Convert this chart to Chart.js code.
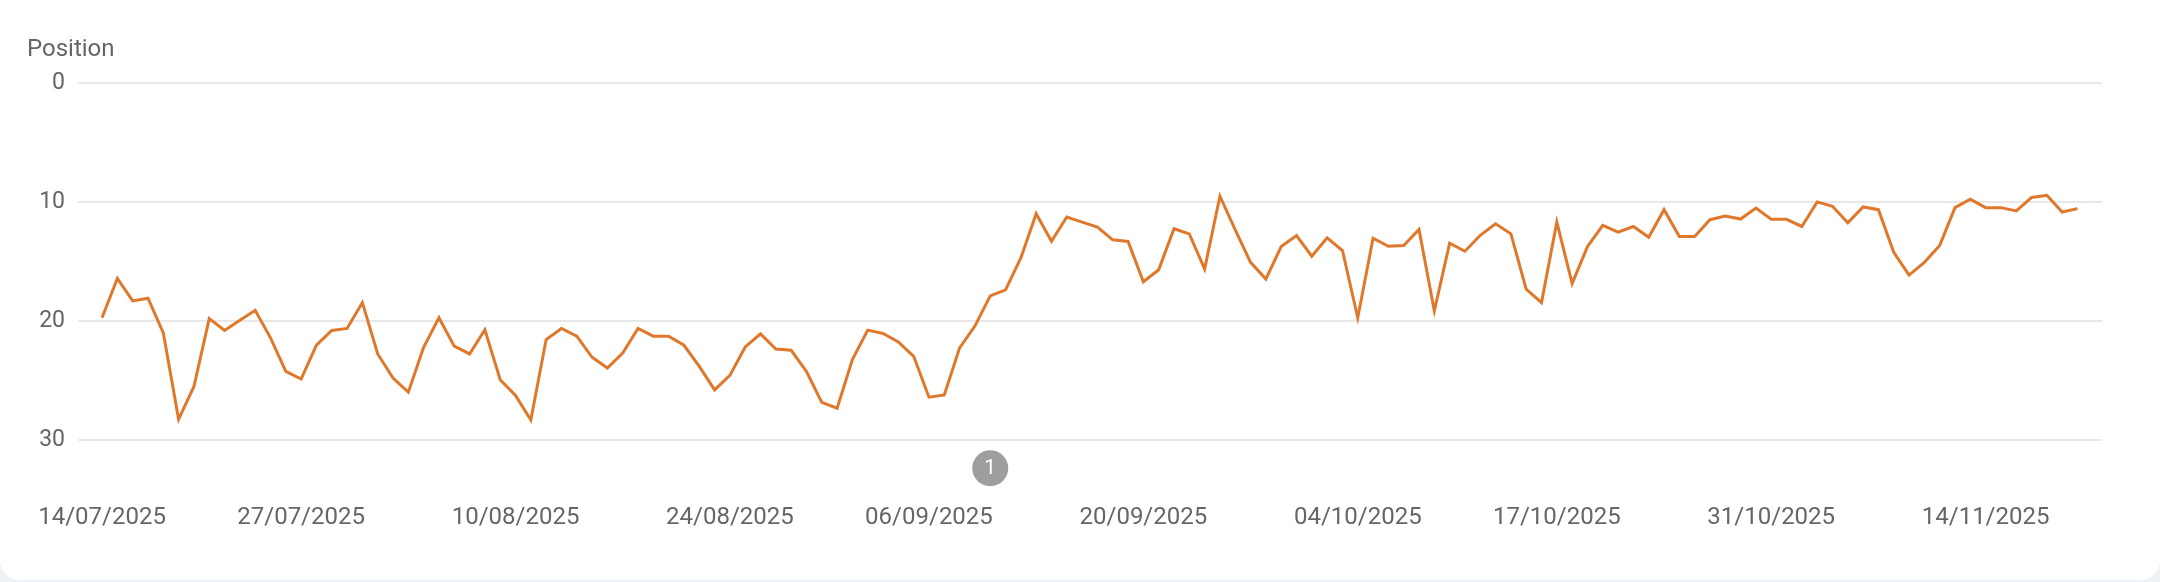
<!DOCTYPE html>
<html lang="en">
<head>
    <meta charset="UTF-8">
    <title>Average position</title>
    <script src="https://cdn.jsdelivr.net/npm/chart.js"></script>
    <style>
        body { margin: 0; background: #eef1f6; }
        .card { width: 2160px; height: 580px; background: #fff; border-radius: 0 0 20px 20px; overflow: hidden; }
        canvas { display: block; }
    </style>
</head>
<body>
    <div class="card">
        <canvas id="positionChart" width="2160" height="580"></canvas>
    </div>

    <script>
        // one point per day, starting 14/07/2025
        const startDate = '2025-07-14';

        const position = [
            19.72, 16.42, 18.31, 18.08, 20.99, 28.25, 25.49, 19.80, 20.79, 19.94, 19.10, 21.41,
            24.23, 24.87, 22.03, 20.79, 20.62, 18.45, 22.76, 24.79, 25.97, 22.20, 19.72,
            22.11, 22.76, 20.73, 24.93, 26.25, 28.31, 21.55, 20.62, 21.27, 23.04, 23.94, 22.68,
            20.62, 21.27, 21.27, 22.03, 23.80, 25.77, 24.56, 22.17, 21.07, 22.34, 22.45,
            24.23, 26.82, 27.32, 23.24, 20.76, 21.04, 21.75, 22.96, 26.39, 26.20, 22.25,
            20.42, 17.89, 17.38, 14.70, 10.99, 13.30, 11.27, 11.69, 12.11, 13.18, 13.32,
            16.70, 15.69, 12.25, 12.68, 15.63, 9.52, 12.34, 15.07, 16.48, 13.75, 12.82,
            14.56, 13.01, 14.08, 19.72, 13.04, 13.72, 13.66, 12.31, 19.15, 13.46, 14.14,
            12.80, 11.83, 12.68, 17.32, 18.45, 11.69, 16.85, 13.75, 11.97, 12.54, 12.06, 12.96,
            10.65, 12.90, 12.90, 11.49, 11.18, 11.44, 10.51, 11.46, 11.46, 12.06, 10.00, 10.37,
            11.75, 10.42, 10.65, 14.23, 16.14, 15.07, 13.66, 10.48, 9.77, 10.48, 10.48, 10.76,
            9.63, 9.44, 10.85, 10.56
        ];

        // x tick labels and the day index they sit on
        const tickDays = [0, 13, 27, 41, 54, 68, 82, 95, 109, 123];
        const tickLabels = [
            '14/07/2025', '27/07/2025', '10/08/2025', '24/08/2025', '06/09/2025',
            '20/09/2025', '04/10/2025', '17/10/2025', '31/10/2025', '14/11/2025'
        ];

        const yTicks = [0, 10, 20, 30];

        // annotation markers under the chart
        const noteDays = [58];
        const noteLabels = ['1'];

        function dayLabel(i) {
            const d = new Date(startDate + 'T00:00:00Z');
            d.setUTCDate(d.getUTCDate() + i);
            const dd = String(d.getUTCDate()).padStart(2, '0');
            const mm = String(d.getUTCMonth() + 1).padStart(2, '0');
            return dd + '/' + mm + '/' + d.getUTCFullYear();
        }

        const points = position.map((v, i) => ({ x: i, y: v }));

        const textColor = '#666';

        // grey numbered circles below the plot
        const notesPlugin = {
            id: 'notes',
            afterDraw(chart) {
                const ctx = chart.ctx;
                const xs = chart.scales.x;
                const y = chart.chartArea.bottom + 28;
                ctx.save();
                noteDays.forEach((day, i) => {
                    const x = xs.getPixelForValue(day);
                    ctx.beginPath();
                    ctx.arc(x, y, 18, 0, Math.PI * 2);
                    ctx.fillStyle = '#9e9e9e';
                    ctx.fill();
                    ctx.fillStyle = '#fff';
                    ctx.font = '21px Roboto';
                    ctx.textAlign = 'center';
                    ctx.textBaseline = 'middle';
                    ctx.fillText(noteLabels[i], x, y + 1);
                });
                ctx.restore();
            }
        };

        const ctx = document.getElementById('positionChart').getContext('2d');
        const chart = new Chart(ctx, {
            type: 'line',
            data: {
                datasets: [{
                    label: 'Position',
                    data: points,
                    borderColor: '#e0782c',
                    backgroundColor: '#e0782c',
                    borderWidth: 3,
                    pointRadius: 0,
                    tension: 0
                }]
            },
            options: {
                responsive: false,
                animation: false,
                layout: {
                    padding: { left: 27, right: 58, top: 0, bottom: 43 }
                },
                scales: {
                    x: {
                        type: 'linear',
                        min: -1.57,
                        max: 130.6,
                        // grid hidden, tick length only used as label offset
                        grid: { display: false, drawTicks: true, tickLength: 58 },
                        border: { display: false },
                        afterBuildTicks(scale) {
                            scale.ticks = tickDays.map(v => ({ value: v }));
                        },
                        ticks: {
                            autoSkip: false,
                            maxRotation: 0,
                            padding: 5,
                            color: textColor,
                            font: { family: 'Roboto', size: 24 },
                            callback(value) {
                                const k = tickDays.indexOf(value);
                                return k >= 0 ? tickLabels[k] : '';
                            }
                        }
                    },
                    y: {
                        reverse: true,
                        min: 0,
                        max: 30,
                        afterFit(scale) {
                            scale.width = 51;
                        },
                        afterBuildTicks(scale) {
                            scale.ticks = yTicks.map(v => ({ value: v }));
                        },
                        grid: {
                            color: '#e8e8e8',
                            lineWidth: 2,
                            drawTicks: false
                        },
                        border: { display: false },
                        ticks: {
                            padding: 13,
                            color: textColor,
                            font: { family: 'Roboto', size: 23 }
                        }
                    }
                },
                plugins: {
                    legend: { display: false },
                    tooltip: {
                        callbacks: {
                            title: items => dayLabel(items[0].parsed.x)
                        }
                    },
                    title: {
                        display: true,
                        text: 'Position',
                        align: 'start',
                        color: textColor,
                        font: { family: 'Roboto', size: 24, weight: 'normal' },
                        padding: { top: 36, bottom: 18 }
                    }
                }
            },
            plugins: [notesPlugin]
        });
    </script>
</body>
</html>
